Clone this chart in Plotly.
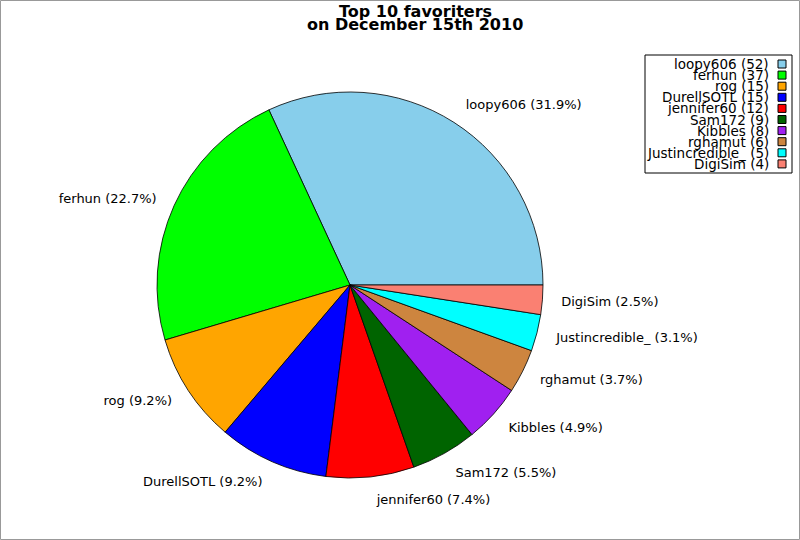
import plotly.graph_objects as go

# favourites per user
users = ["loopy606", "ferhun", "rog", "DurellSOTL", "jennifer60",
         "Sam172", "Kibbles", "rghamut", "Justincredible_", "DigiSim"]
counts = [52, 37, 15, 15, 12, 9, 8, 6, 5, 4]
colors = ["#87CEEB", "#00FF00", "#FFA500", "#0000FF", "#FF0000",
          "#006400", "#A020F0", "#CD853F", "#00FFFF", "#FA8072"]
title_lines = ["Top 10 favoriters", "on December 15th 2010"]

W, H = 800, 540
font = "DejaVu Sans"

# first slice starts at 3 o'clock and runs counterclockwise
rot = 90 - 360 * counts[0] / sum(counts)
cx, cy, r = 350, 285, 193
rl = 208  # radius used only for placing the labels

fig = go.Figure()
fig.add_trace(go.Pie(
    labels=users, values=counts, sort=False,
    direction="counterclockwise", rotation=rot,
    marker=dict(colors=colors, line=dict(color="black", width=0.8)),
    textinfo="none", showlegend=False,
    hoverinfo="label+value+percent",
    domain=dict(x=[(cx - r) / W, (cx + r) / W],
                y=[(H - cy - r) / H, (H - cy + r) / H]),
))
fig.add_trace(go.Pie(
    labels=users, values=counts, sort=False,
    direction="counterclockwise", rotation=rot,
    marker=dict(colors=["rgba(0,0,0,0)"] * len(users),
                line=dict(color="rgba(0,0,0,0)", width=0)),
    textposition="outside",
    texttemplate="%{label} (%{percent:.1%})",
    textfont=dict(family=font, size=13, color="black"),
    showlegend=False, hoverinfo="skip",
    domain=dict(x=[(cx - rl) / W, (cx + rl) / W],
                y=[(H - cy - rl) / H, (H - cy + rl) / H]),
))

# hand-made legend box: text right aligned, swatch on the right
shapes = [
    dict(type="rect", xref="paper", yref="paper", x0=0.5 / W, x1=1 - 0.5 / W,
         y0=0.5 / H, y1=1 - 0.5 / H, line=dict(color="#999999", width=1)),
    dict(type="rect", xref="paper", yref="paper", x0=645 / W, x1=792 / W,
         y0=1 - 173 / H, y1=1 - 55 / H, line=dict(color="black", width=1),
         fillcolor="white"),
]
annotations = []
for i, (u, c, col) in enumerate(zip(users, counts, colors)):
    yc = 64 + i * 11.1
    annotations.append(dict(
        xref="paper", yref="paper", x=771 / W, y=1 - yc / H,
        xanchor="right", yanchor="middle", showarrow=False,
        text=f"{u} ({c})", font=dict(family=font, size=13.5, color="black"),
    ))
    shapes.append(dict(
        type="rect", xref="paper", yref="paper",
        x0=778 / W, x1=786 / W, y0=1 - (yc + 4) / H, y1=1 - (yc - 4) / H,
        fillcolor=col, line=dict(color="black", width=1),
    ))

# two-line title, tight line spacing
for i, t in enumerate(title_lines):
    annotations.append(dict(
        xref="paper", yref="paper", x=415 / W, y=1 - (11 + 14 * i) / H,
        xanchor="center", yanchor="middle", showarrow=False,
        text=f"<b>{t}</b>", font=dict(family=font, size=16, color="black"),
    ))

fig.update_layout(
    width=W, height=H,
    margin=dict(l=0, r=0, t=0, b=0),
    paper_bgcolor="white",
    shapes=shapes,
    annotations=annotations,
)

fig.write_html("out.html", config={"displayModeBar": False},
               post_script="document.body.style.margin='0';")
